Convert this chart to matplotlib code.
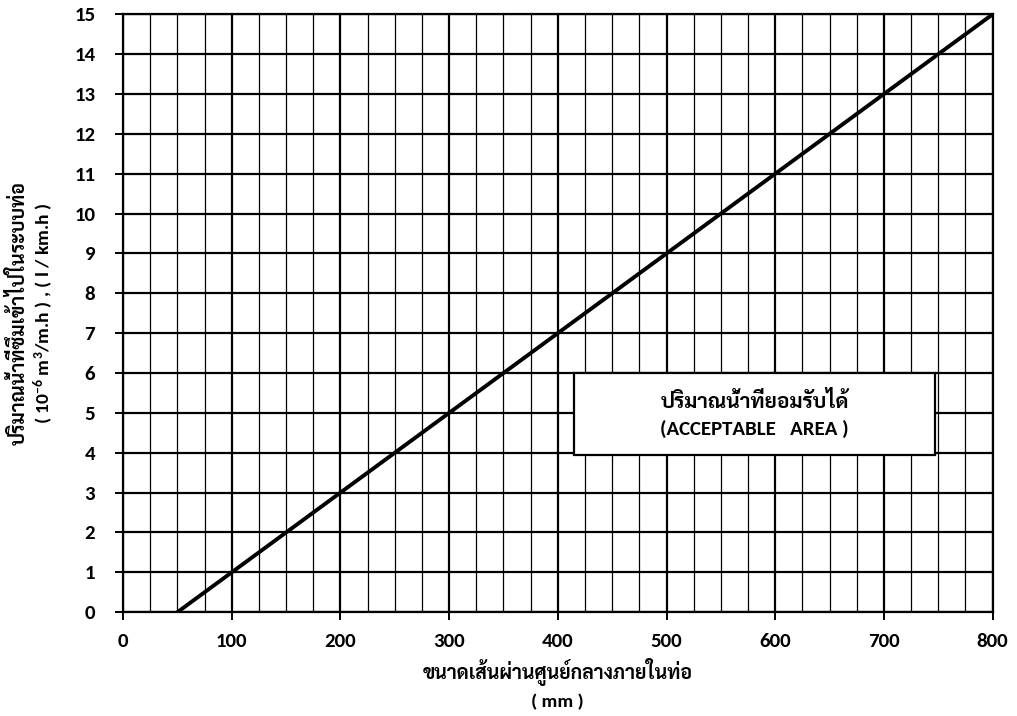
import matplotlib
matplotlib.use("Agg")
import matplotlib.pyplot as plt
from matplotlib.patches import Rectangle
from matplotlib.ticker import MultipleLocator

# ── Data ──────────────────────────────────────────────────────────────
diameter_mm = [50, 800]
infiltration = [0, 15]

x_ticks = [0, 100, 200, 300, 400, 500, 600, 700, 800]
y_ticks = list(range(0, 16))

x_label = "ขนาดเส้นผ่านศูนย์กลางภายในท่อ\n( mm )"
y_label = "ปริมาณน้ำที่ซึมเข้าไปในระบบท่อ\n( 10$^{-6}$ m$^3$/m.h ) , ( l / km.h )"
box_text = "ปริมาณน้ำที่ยอมรับได้\n(ACCEPTABLE   AREA )"

plt.rcParams["font.family"] = ["Carlito", "Sarabun", "DejaVu Sans"]
plt.rcParams["mathtext.fontset"] = "custom"
plt.rcParams["mathtext.rm"] = "Carlito:bold"
plt.rcParams["mathtext.default"] = "rm"

fig = plt.figure(figsize=(10.17, 7.16), dpi=100)
ax = fig.add_axes([0.121, 0.145, 0.855, 0.835])

ax.plot(diameter_mm, infiltration, color="black", lw=2.8, solid_capstyle="butt", zorder=5)

ax.set_xlim(0, 800)
ax.set_ylim(0, 15)
ax.set_xticks(x_ticks)
ax.set_yticks(y_ticks)
ax.xaxis.set_minor_locator(MultipleLocator(25))

ax.grid(which="major", axis="both", color="black", lw=1.6)
ax.grid(which="minor", axis="x", color="black", lw=0.9)
for s in ax.spines.values():
    s.set_linewidth(1.6)

ax.tick_params(axis="both", which="major", direction="out", length=6, width=1.4,
               labelsize=15, pad=14)
ax.tick_params(axis="x", which="major", pad=9)
ax.tick_params(axis="x", which="minor", length=0)
for lbl in ax.get_xticklabels() + ax.get_yticklabels():
    lbl.set_fontweight("bold")

ax.set_xlabel(x_label, fontsize=14, fontweight="bold", labelpad=6, linespacing=1.55)
ax.set_ylabel(y_label, fontsize=14, fontweight="bold", labelpad=14, linespacing=1.2)

# acceptable area box
ax.add_patch(Rectangle((415, 3.95), 332, 2.05, facecolor="white", edgecolor="black",
                       lw=1.6, zorder=6))
ax.text(581, 4.97, box_text, ha="center", va="center", fontsize=15, fontweight="bold",
        linespacing=1.6, zorder=7)

fig.savefig("out.png", dpi=100)
